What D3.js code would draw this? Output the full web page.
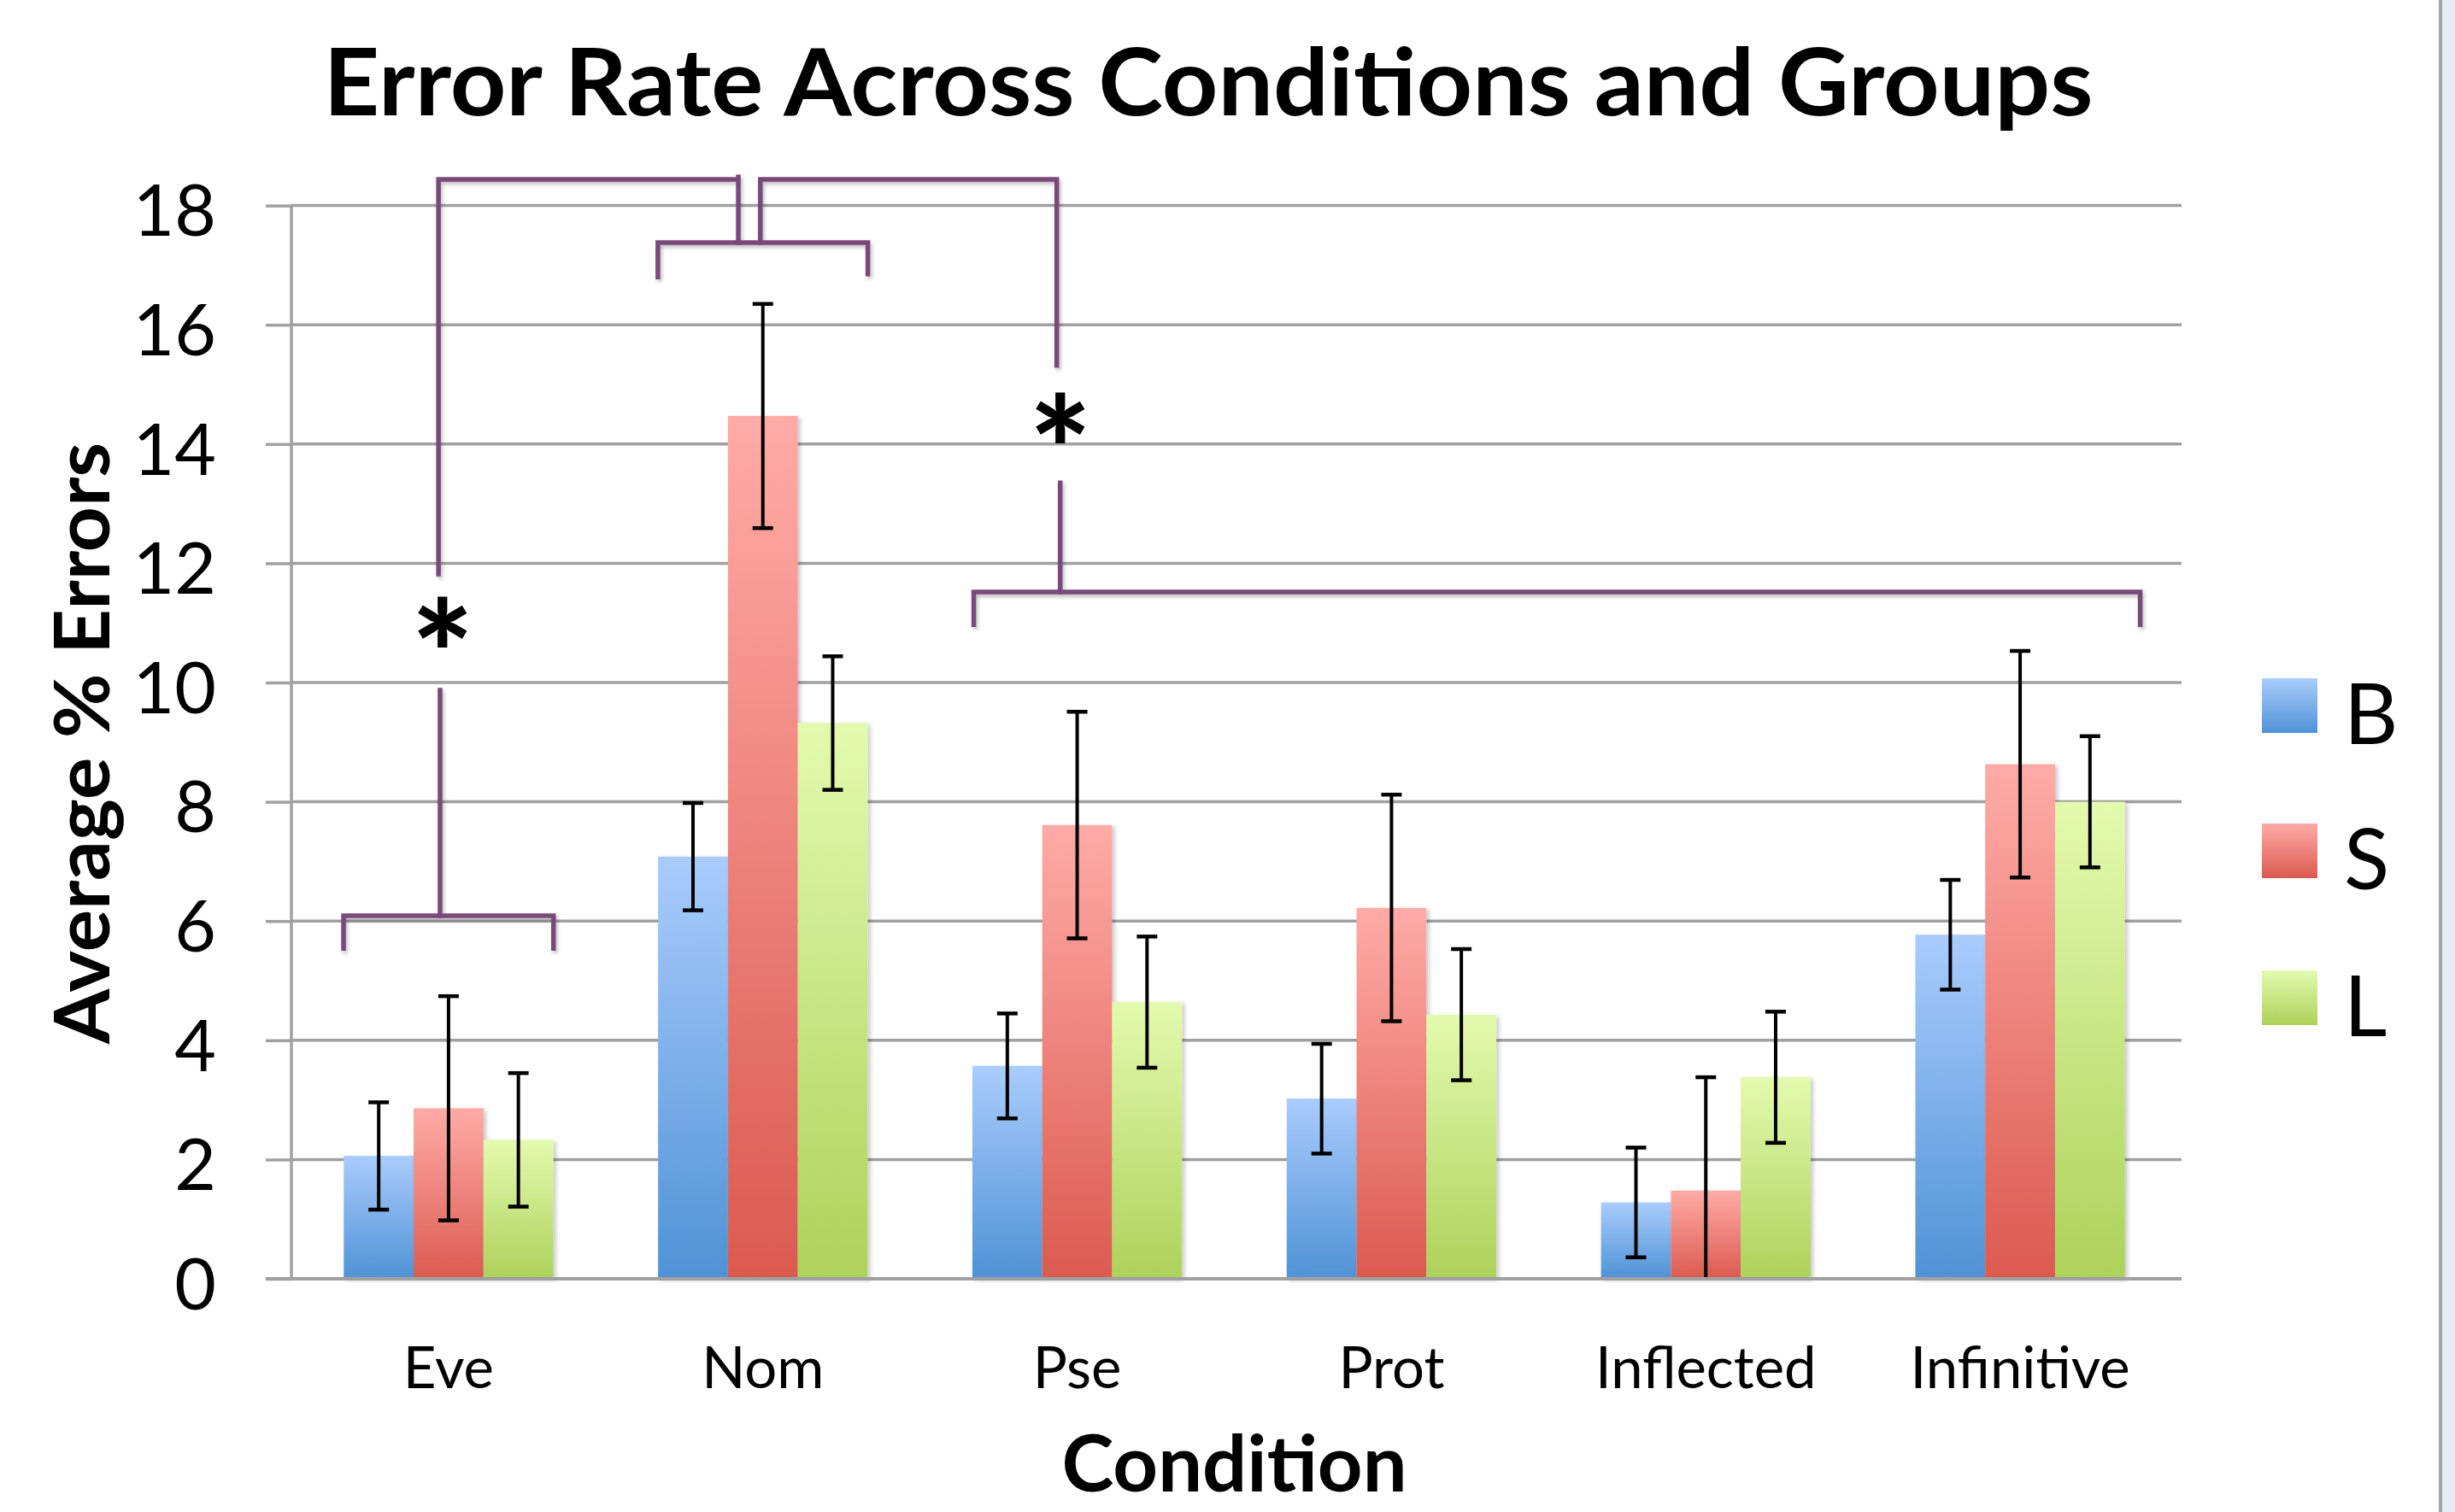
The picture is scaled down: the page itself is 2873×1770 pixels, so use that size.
<!DOCTYPE html>
<html>
<head>
<meta charset="utf-8">
<script src="https://cdn.jsdelivr.net/npm/d3@7"></script>
<style>
  html, body { margin: 0; padding: 0; background: #ffffff; }
  svg { display: block; }
  text { font-family: Lato, "Open Sans", "Noto Sans", sans-serif; fill: #000; }
</style>
</head>
<body>
<script>
// ---------------- data ----------------
const categories = ["Eve", "Nom", "Pse", "Prot", "Inflected", "Infinitive"];
const seriesNames = ["B", "S", "L"];
const valuesB = [2.06, 7.08, 3.57, 3.02, 1.28, 5.77];
const valuesS = [2.86, 14.47, 7.61, 6.22, 1.48, 8.63];
const valuesL = [2.33, 9.32, 4.64, 4.43, 3.38, 8.00];
const errB = [0.90, 0.90, 0.88, 0.92, 0.92, 0.92];
const errS = [1.88, 1.88, 1.90, 1.90, 1.90, 1.90];
const errL = [1.12, 1.12, 1.10, 1.10, 1.10, 1.10];
const yTicks = [0, 2, 4, 6, 8, 10, 12, 14, 16, 18];
const titleText = "Error Rate Across Conditions and Groups";
const xTitle = "Condition";
const yTitle = "Average % Errors";

// significance brackets: points given as [category, fraction across band, value]
const bracketLines = [
  [["Eve", 0.166, 5.54], ["Eve", 0.166, 6.09], ["Eve", 0.834, 6.09], ["Eve", 0.834, 5.54]],
  [["Eve", 0.473, 6.09], ["Eve", 0.473, 9.87]],
  [["Eve", 0.468, 11.82], ["Eve", 0.468, 18.44], ["Nom", 0.411, 18.44]],
  [["Nom", 0.422, 18.48], ["Nom", 0.422, 17.38]],
  [["Nom", 0.166, 16.80], ["Nom", 0.166, 17.38], ["Nom", 0.834, 17.38], ["Nom", 0.834, 16.85]],
  [["Nom", 0.492, 17.38], ["Nom", 0.492, 18.44], ["Pse", 0.435, 18.44], ["Pse", 0.435, 15.32]],
  [["Pse", 0.446, 13.35], ["Pse", 0.446, 11.52]],
  [["Pse", 0.171, 10.97], ["Pse", 0.171, 11.52], ["Infinitive", 0.882, 11.52], ["Infinitive", 0.882, 10.97]]
];
const starMarks = [["Eve", 0.481, 10.95], ["Pse", 0.446, 14.38]];

// ---------------- layout ----------------
const W = 2873, H = 1770;
const plot = { left: 341, right: 2548, top: 240.6, bottom: 1497 };

const svg = d3.select("body").append("svg").attr("width", W).attr("height", H);

const defs = svg.append("defs");
const gradColors = {
  B: ["#a9ccfc", "#4f92d6"],
  S: ["#ffaba7", "#db5a4f"],
  L: ["#e3faae", "#add25a"]
};
seriesNames.forEach(s => {
  const g = defs.append("linearGradient").attr("id", "grad" + s)
    .attr("x1", 0).attr("y1", 0).attr("x2", 0).attr("y2", 1);
  g.append("stop").attr("offset", "0%").attr("stop-color", gradColors[s][0]);
  g.append("stop").attr("offset", "100%").attr("stop-color", gradColors[s][1]);
});
const shadow = defs.append("filter").attr("id", "shadow")
  .attr("x", "-20%").attr("y", "-20%").attr("width", "140%").attr("height", "140%");
shadow.append("feDropShadow").attr("dx", 3).attr("dy", 2).attr("stdDeviation", 2.5)
  .attr("flood-color", "#000").attr("flood-opacity", 0.22);
const bracketShadow = defs.append("filter").attr("id", "bshadow")
  .attr("filterUnits", "userSpaceOnUse")
  .attr("x", 0).attr("y", 0).attr("width", W).attr("height", H);
bracketShadow.append("feDropShadow").attr("dx", 2).attr("dy", 3).attr("stdDeviation", 2)
  .attr("flood-color", "#000").attr("flood-opacity", 0.25);

// background right strip
svg.append("rect").attr("x", 2858).attr("y", 0).attr("width", W - 2858).attr("height", H).attr("fill", "#e9ebf3");
svg.append("line").attr("x1", 2856).attr("x2", 2856).attr("y1", 0).attr("y2", H)
  .attr("stroke", "#a3a3a3").attr("stroke-width", 4);

// scales
const x = d3.scaleBand().domain(categories).range([plot.left, plot.right]).paddingInner(0).paddingOuter(0);
const bw = x.bandwidth();
const xs = d3.scaleBand().domain(seriesNames).range([bw / 6, bw * 5 / 6]).padding(0);
const y = d3.scaleLinear().domain([0, 18]).range([plot.bottom, plot.top]);

const gridColor = "#a0a0a0";

// y axis ticks + labels
const yAxis = d3.axisLeft(y).tickValues(yTicks).tickSize(30).tickPadding(58);
const yG = svg.append("g").attr("transform", `translate(${plot.left},0)`).call(yAxis);
yG.select(".domain").remove();
yG.selectAll(".tick line").attr("stroke", gridColor).attr("stroke-width", 3.5);
yG.selectAll(".tick text").attr("font-size", 84).attr("font-family", "Lato, sans-serif")
  .attr("fill", "#000").attr("dy", "0.42em");
// gridlines
svg.append("g").selectAll("line").data(yTicks).join("line")
  .attr("x1", plot.left).attr("x2", plot.right + 5)
  .attr("y1", d => y(d)).attr("y2", d => y(d))
  .attr("stroke", gridColor).attr("stroke-width", 3.5);
// y axis line
svg.append("line").attr("x1", plot.left).attr("x2", plot.left)
  .attr("y1", y(18)).attr("y2", y(0)).attr("stroke", gridColor).attr("stroke-width", 3.5);

// x axis labels
const xAxis = d3.axisBottom(x).tickSize(0).tickPadding(0);
const xG = svg.append("g").attr("transform", `translate(0,${plot.bottom})`).call(xAxis);
xG.select(".domain").remove();
xG.selectAll(".tick text").attr("font-size", 67).attr("font-family", "Lato, sans-serif")
  .attr("fill", "#000").attr("dy", 0).attr("y", 128);

// bars
const rows = categories.map((c, i) => ({
  cat: c,
  items: [
    { s: "B", v: valuesB[i], e: errB[i] },
    { s: "S", v: valuesS[i], e: errS[i] },
    { s: "L", v: valuesL[i], e: errL[i] }
  ]
}));

const groups = svg.append("g").selectAll("g").data(rows).join("g")
  .attr("transform", d => `translate(${x(d.cat)},0)`);

groups.selectAll("rect").data(d => d.items).join("rect")
  .attr("x", d => xs(d.s))
  .attr("y", d => y(d.v))
  .attr("width", xs.bandwidth())
  .attr("height", d => y(0) - y(d.v))
  .attr("fill", d => `url(#grad${d.s})`)
  .attr("filter", "url(#shadow)");

// error bars
const capW = 24;
groups.each(function (d) {
  const g = d3.select(this);
  d.items.forEach(it => {
    const cx = xs(it.s) + xs.bandwidth() / 2;
    const lo = Math.max(0, it.v - it.e), hi = it.v + it.e;
    g.append("line").attr("x1", cx).attr("x2", cx).attr("y1", y(lo)).attr("y2", y(hi))
      .attr("stroke", "#000").attr("stroke-width", 4);
    g.append("line").attr("x1", cx - capW / 2).attr("x2", cx + capW / 2).attr("y1", y(hi)).attr("y2", y(hi))
      .attr("stroke", "#000").attr("stroke-width", 4.5);
    if (it.v - it.e > 0) {
      g.append("line").attr("x1", cx - capW / 2).attr("x2", cx + capW / 2).attr("y1", y(lo)).attr("y2", y(lo))
        .attr("stroke", "#000").attr("stroke-width", 4.5);
    }
  });
});

// x axis baseline
svg.append("line").attr("x1", plot.left - 30).attr("x2", plot.right + 5)
  .attr("y1", y(0)).attr("y2", y(0)).attr("stroke", gridColor).attr("stroke-width", 4);

// brackets
const px = p => x(p[0]) + p[1] * bw;
const lineGen = d3.line().x(p => px(p)).y(p => y(p[2]));
svg.append("g").attr("filter", "url(#bshadow)").selectAll("path").data(bracketLines).join("path")
  .attr("d", d => lineGen(d))
  .attr("fill", "none").attr("stroke", "#7a4a7b").attr("stroke-width", 5.5)
  .attr("stroke-linejoin", "miter").attr("stroke-linecap", "square");

// stars
const starFs = 172;
svg.append("g").selectAll("text").data(starMarks).join("text")
  .attr("x", d => px(d)).attr("y", d => y(d[2]) + starFs * 0.56)
  .attr("text-anchor", "middle").attr("font-size", starFs).attr("font-weight", 900)
  .text("*");

// legend
const legendY = [794, 964, 1136];
const leg = svg.append("g").selectAll("g").data(seriesNames).join("g")
  .attr("transform", (d, i) => `translate(2647,${legendY[i]})`);
leg.append("rect").attr("width", 65).attr("height", 64).attr("fill", d => `url(#grad${d})`);
leg.append("text").attr("x", 96).attr("y", 77).attr("font-size", 98).text(d => d);

// titles
svg.append("text").attr("x", 1414).attr("y", 135).attr("text-anchor", "middle")
  .attr("font-size", 109).attr("font-weight", 700)
  .attr("textLength", 2071).attr("lengthAdjust", "spacingAndGlyphs")
  .text(titleText);
svg.append("text").attr("x", (plot.left + plot.right) / 2).attr("y", 1746).attr("text-anchor", "middle")
  .attr("font-size", 92).attr("font-weight", 700).text(xTitle);
svg.append("text").attr("transform", `translate(128,870) rotate(-90)`).attr("text-anchor", "middle")
  .attr("font-size", 90).attr("font-weight", 700)
  .attr("textLength", 704).attr("lengthAdjust", "spacingAndGlyphs").text(yTitle);
</script>
</body>
</html>
